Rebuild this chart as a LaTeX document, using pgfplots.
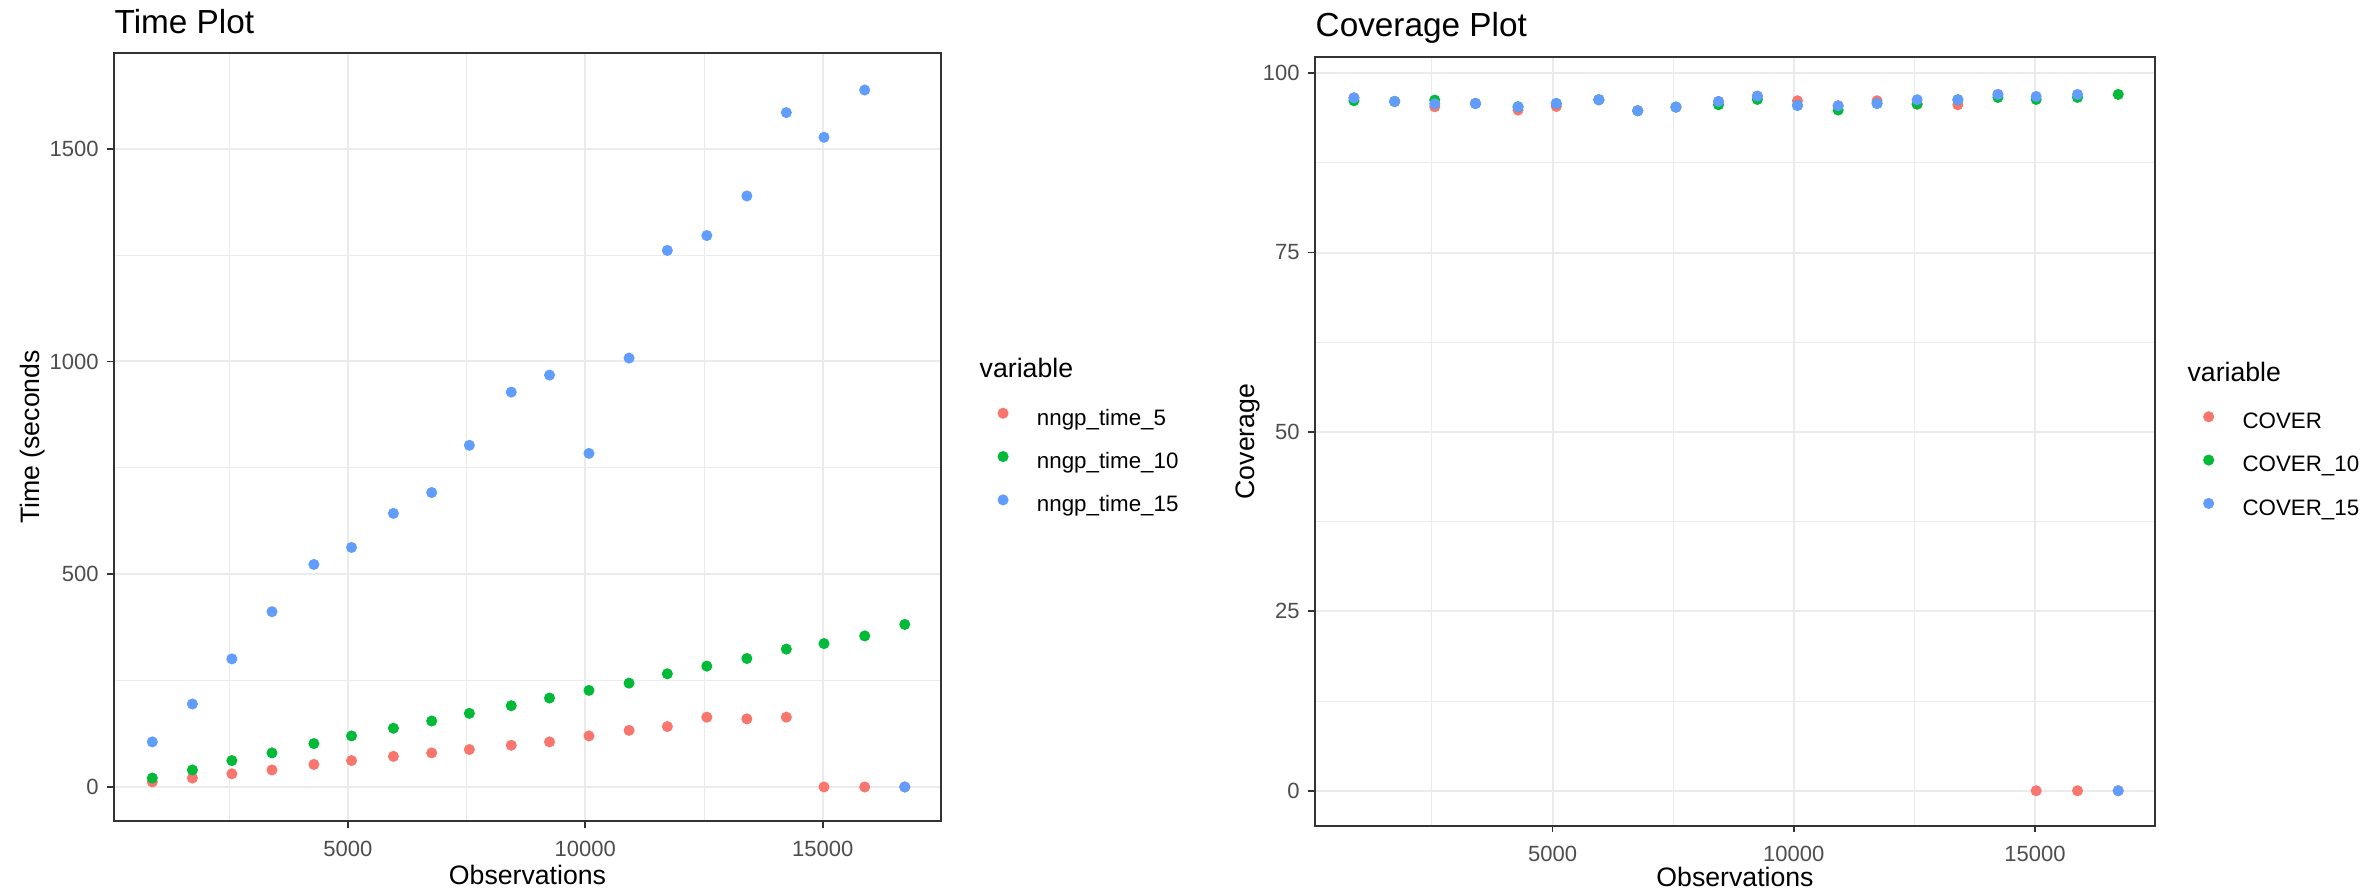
\documentclass[border=0pt]{standalone}
\usepackage{pgfplots}
\pgfplotsset{compat=1.18}
\usepackage{fontspec}
\setmainfont{Liberation Sans}
\definecolor{cR}{HTML}{F8766D}
\definecolor{cG}{HTML}{00BA38}
\definecolor{cB}{HTML}{619CFF}
\definecolor{gridc}{HTML}{EBEBEB}
\definecolor{boxc}{HTML}{333333}
\definecolor{tickc}{HTML}{4D4D4D}

\pgfplotsset{
  gg/.style={
    scale only axis,
    anchor=south west,
    clip=false,
    tick align=outside,
    tick pos=left,
    major tick length=2pt,
    major tick style={draw=boxc, line width=0.5pt},
    minor tick length=0pt,
    axis line style={draw=boxc, line width=0.5pt},
    grid=both,
    major grid style={draw=gridc, line width=0.6pt},
    minor grid style={draw=gridc, line width=0.3pt},
    tick label style={font=\fontsize{6.6}{7.9}\selectfont, text=tickc, inner sep=0pt},
    xticklabel style={yshift=-3.9pt},
    yticklabel style={xshift=-2.4pt},
    /pgf/number format/assume math mode=true,
    scaled ticks=false,
    xmin=75, xmax=17490,
    xtick={5000,10000,15000},
    xticklabels={5000,10000,15000},
    minor xtick={2500,7500,12500},
    every axis title shift=0pt,
    title style={anchor=base west, font=\fontsize{10}{12}\selectfont, inner sep=0pt},
    xlabel={Observations},
    label style={font=\fontsize{8}{9.6}\selectfont, inner sep=0pt},
    legend style={draw=none, fill=none, inner sep=0pt,
      font=\fontsize{6.7}{8}\selectfont,
      row sep=6.5pt, column sep=8.7pt,
      nodes={inner sep=0pt, text height=5pt, text depth=1.5pt},
      cells={anchor=west}, anchor=west},
    legend cell align=left,
    legend image code/.code={\draw[##1] plot coordinates {(0pt,1.8pt)};},
  },
  pts/.style={only marks, mark=*, mark size=1.45pt, color=#1, mark options={fill=#1, draw=#1}},
}

\begin{document}
\begin{tikzpicture}
\useasboundingbox (0,0) rectangle (713.7pt,268.2pt);
\begin{axis}[gg,
  at={(34.2pt,21.9pt)}, width=248.1pt, height=230.4pt,
  ymin=-80, ymax=1725,
  ytick={0,500,1000,1500}, yticklabels={0,500,1000,1500},
  minor ytick={250,750,1250},
  title={Time Plot},
  title style={at={(axis description cs:0,1.026)}},
  xlabel style={at={(axis description cs:0.5,-0.0833)}, anchor=base},
  ylabel={Time (seconds},
  ylabel style={at={(axis description cs:-0.0895,0.5)}, rotate=0, anchor=base},
  legend style={at={(axis description cs:1.0684,0.4667)}},
]
\addplot[pts=cR] coordinates {
(882,12) (1726,21) (2557,31) (3402,40) (4284,53) (5077,62) (5959,72) (6765,80) (7558,88) (8440,98)
(9246,106) (10077,120) (10921,133) (11727,142) (12558,164) (13402,160) (14233,164) (15026,0) (15883,0) (16727,0)};
\addplot[pts=cG] coordinates {
(882,21) (1726,40) (2557,62) (3402,80) (4284,102) (5077,120) (5959,138) (6765,155) (7558,173) (8440,191)
(9246,209) (10077,227) (10921,244) (11727,266) (12558,284) (13402,302) (14233,324) (15026,337) (15883,355) (16727,382)};
\addplot[pts=cB] coordinates {
(882,106) (1726,195) (2557,301) (3402,412) (4284,523) (5077,563) (5959,643) (6765,692) (7558,803) (8440,928)
(9246,968) (10077,784) (10921,1008) (11727,1261) (12558,1296) (13402,1389) (14233,1585) (15026,1527) (15883,1638) (16727,0)};
\legend{nngp\_time\_5, nngp\_time\_10, nngp\_time\_15}
\node[anchor=base west, font=\fontsize{8}{9.6}\selectfont, inner sep=0pt] at (axis description cs:1.046,0.578) {variable};
\end{axis}

\begin{axis}[gg,
  at={(394.5pt,20.5pt)}, width=252pt, height=230.5pt,
  ymin=-4.87, ymax=102.2,
  ytick={0,25,50,75,100}, yticklabels={0,25,50,75,100},
  minor ytick={12.5,37.5,62.5,87.5},
  title={Coverage Plot},
  title style={at={(axis description cs:0,1.027)}},
  xlabel style={at={(axis description cs:0.5,-0.0794)}, anchor=base},
  ylabel={Coverage},
  ylabel style={at={(axis description cs:-0.0726,0.5)}, rotate=0, anchor=base},
  legend style={at={(axis description cs:1.0573,0.468)}},
]
\addplot[pts=cR] coordinates {
(882,96.56) (1726,96.05) (2557,95.31) (3402,95.77) (4284,94.85) (5077,95.35) (5959,96.29) (6765,94.76) (7558,95.27) (8440,96.05)
(9246,96.80) (10077,96.15) (10921,95.45) (11727,96.15) (12558,95.68) (13402,95.59) (14233,97.03) (15026,0) (15883,0) (16727,0)};
\addplot[pts=cG] coordinates {
(882,96.15) (1726,96.05) (2557,96.24) (3402,95.77) (4284,95.31) (5077,95.77) (5959,96.29) (6765,94.76) (7558,95.27) (8440,95.59)
(9246,96.33) (10077,95.50) (10921,94.85) (11727,95.77) (12558,95.68) (13402,96.29) (14233,96.61) (15026,96.33) (15883,96.61) (16727,97.03)};
\addplot[pts=cB] coordinates {
(882,96.56) (1726,96.05) (2557,95.73) (3402,95.77) (4284,95.31) (5077,95.77) (5959,96.29) (6765,94.76) (7558,95.27) (8440,96.05)
(9246,96.80) (10077,95.50) (10921,95.45) (11727,95.77) (12558,96.29) (13402,96.29) (14233,97.03) (15026,96.75) (15883,97.03) (16727,0)};
\legend{COVER, COVER\_10, COVER\_15}
\node[anchor=base west, font=\fontsize{8}{9.6}\selectfont, inner sep=0pt] at (axis description cs:1.038,0.578) {variable};
\end{axis}
\end{tikzpicture}
\end{document}
